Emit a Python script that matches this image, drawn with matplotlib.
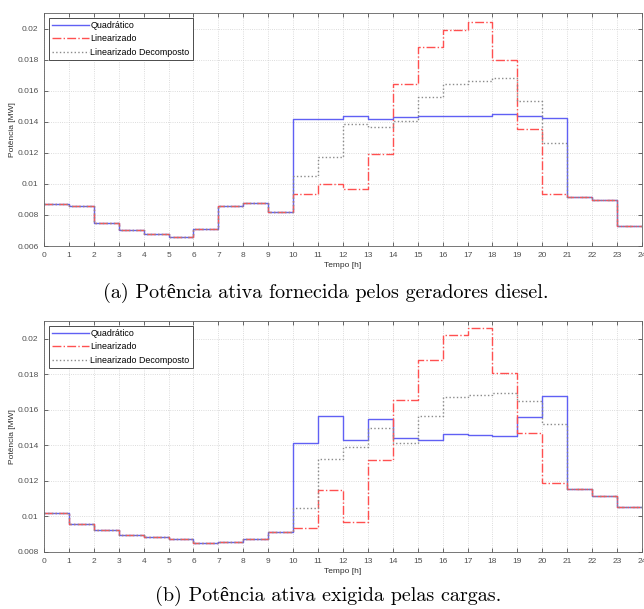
import numpy as np
import matplotlib
matplotlib.use('Agg')
import matplotlib.pyplot as plt

# hours 0..23 (each value holds for one hour)
horas = np.arange(0, 25)

# (a) potencia fornecida pelos geradores diesel [MW]
ger_quad = [0.0087, 0.0086, 0.0075, 0.0070, 0.0068, 0.00658, 0.0071, 0.0086, 0.0088, 0.0082,
            0.0142, 0.0142, 0.01436, 0.0142, 0.0143, 0.01436, 0.01434, 0.0144, 0.01447, 0.0144,
            0.01426, 0.00917, 0.00896, 0.0073]
ger_lin = [0.0087, 0.0086, 0.0075, 0.0070, 0.0068, 0.00658, 0.0071, 0.0086, 0.0088, 0.0082,
           0.00937, 0.0100, 0.0097, 0.0119, 0.01641, 0.01883, 0.01992, 0.02041, 0.01795, 0.01353,
           0.00932, 0.00917, 0.00896, 0.0073]
ger_dec = [0.0087, 0.0086, 0.0075, 0.0070, 0.0068, 0.00658, 0.0071, 0.0086, 0.0088, 0.0082,
           0.01051, 0.01175, 0.01385, 0.01364, 0.01406, 0.01562, 0.01644, 0.01663, 0.01684, 0.01535,
           0.01263, 0.00917, 0.00896, 0.0073]

# (b) potencia exigida pelas cargas [MW]
car_quad = [0.01019, 0.00957, 0.00923, 0.00895, 0.00886, 0.00873, 0.00849, 0.00856, 0.00873, 0.0091,
            0.01413, 0.01564, 0.01432, 0.0155, 0.01441, 0.01432, 0.01462, 0.01458, 0.01454, 0.01557,
            0.0168, 0.01153, 0.01114, 0.01054]
car_lin = [0.01019, 0.00957, 0.00923, 0.00895, 0.00886, 0.00873, 0.00849, 0.00856, 0.00873, 0.0091,
           0.00935, 0.01148, 0.0097, 0.0132, 0.01654, 0.0188, 0.02024, 0.02058, 0.01809, 0.01467,
           0.01189, 0.01153, 0.01114, 0.01054]
car_dec = [0.01019, 0.00957, 0.00923, 0.00895, 0.00886, 0.00873, 0.00849, 0.00856, 0.00873, 0.0091,
           0.01045, 0.01322, 0.01389, 0.01497, 0.01413, 0.01563, 0.01675, 0.01682, 0.01697, 0.0165,
           0.0152, 0.01153, 0.01114, 0.01054]

nomes = ['Quadrático', 'Linearizado', 'Linearizado Decomposto']
cores = ['#6060f4', '#ff5050', '#8a8a8a']
estilos = ['-', '-.', ':']

plt.rcParams['font.family'] = ['Liberation Sans', 'DejaVu Sans']

fig = plt.figure(figsize=(6.44, 6.09), dpi=100)
ax1 = fig.add_axes([0.0683, 0.596, 0.9286, 0.3827])
ax2 = fig.add_axes([0.0683, 0.0936, 0.9286, 0.3793])


def desenha(ax, series, ylim, yticks, yticklabels):
    for vals, nome, cor, ls in zip(series, nomes, cores, estilos):
        y = np.append(vals, vals[-1])
        ax.step(horas, y, where='post', color=cor, linestyle=ls, lw=1.0, label=nome)
    ax.set_xlim(0, 24)
    ax.set_ylim(*ylim)
    ax.set_xticks(horas)
    ax.set_yticks(yticks)
    ax.set_yticklabels(yticklabels)
    ax.grid(True, linestyle=':', color='#d0d0d0', lw=0.6)
    ax.tick_params(direction='in', top=True, right=True, labelsize=6,
                   colors='#505050', length=3, width=0.6, pad=4)
    for s in ax.spines.values():
        s.set_color('#606060')
        s.set_linewidth(0.6)
    ax.set_xlabel('Tempo [h]', fontsize=6, labelpad=2.5, color='#303030')
    ax.set_ylabel('Potência [MW]', fontsize=6, labelpad=1, color='#303030')
    leg = ax.legend(loc='upper left', fontsize=6.4, handlelength=4.2, handletextpad=0.1,
                    borderpad=0.35, labelspacing=0.5, fancybox=False, framealpha=1,
                    borderaxespad=0.55)
    leg.get_frame().set_edgecolor('#303030')
    leg.get_frame().set_linewidth(0.6)


desenha(ax1, [ger_quad, ger_lin, ger_dec], (0.006, 0.021),
        [0.006, 0.008, 0.01, 0.012, 0.014, 0.016, 0.018, 0.02],
        ['0.006', '0.008', '0.01', '0.012', '0.014', '0.016', '0.018', '0.02'])
desenha(ax2, [car_quad, car_lin, car_dec], (0.008, 0.021),
        [0.008, 0.01, 0.012, 0.014, 0.016, 0.018, 0.02],
        ['0.008', '0.01', '0.012', '0.014', '0.016', '0.018', '0.02'])

serif = ['cmr10', 'Liberation Serif']
fig.text(0.506, 0.519, '(a) Potência ativa fornecida pelos geradores diesel.',
         ha='center', va='center', fontsize=14.5, family=serif)
fig.text(0.51, 0.021, '(b) Potência ativa exigida pelas cargas.',
         ha='center', va='center', fontsize=14.5, family=serif)

fig.savefig('out.png', dpi=100)
